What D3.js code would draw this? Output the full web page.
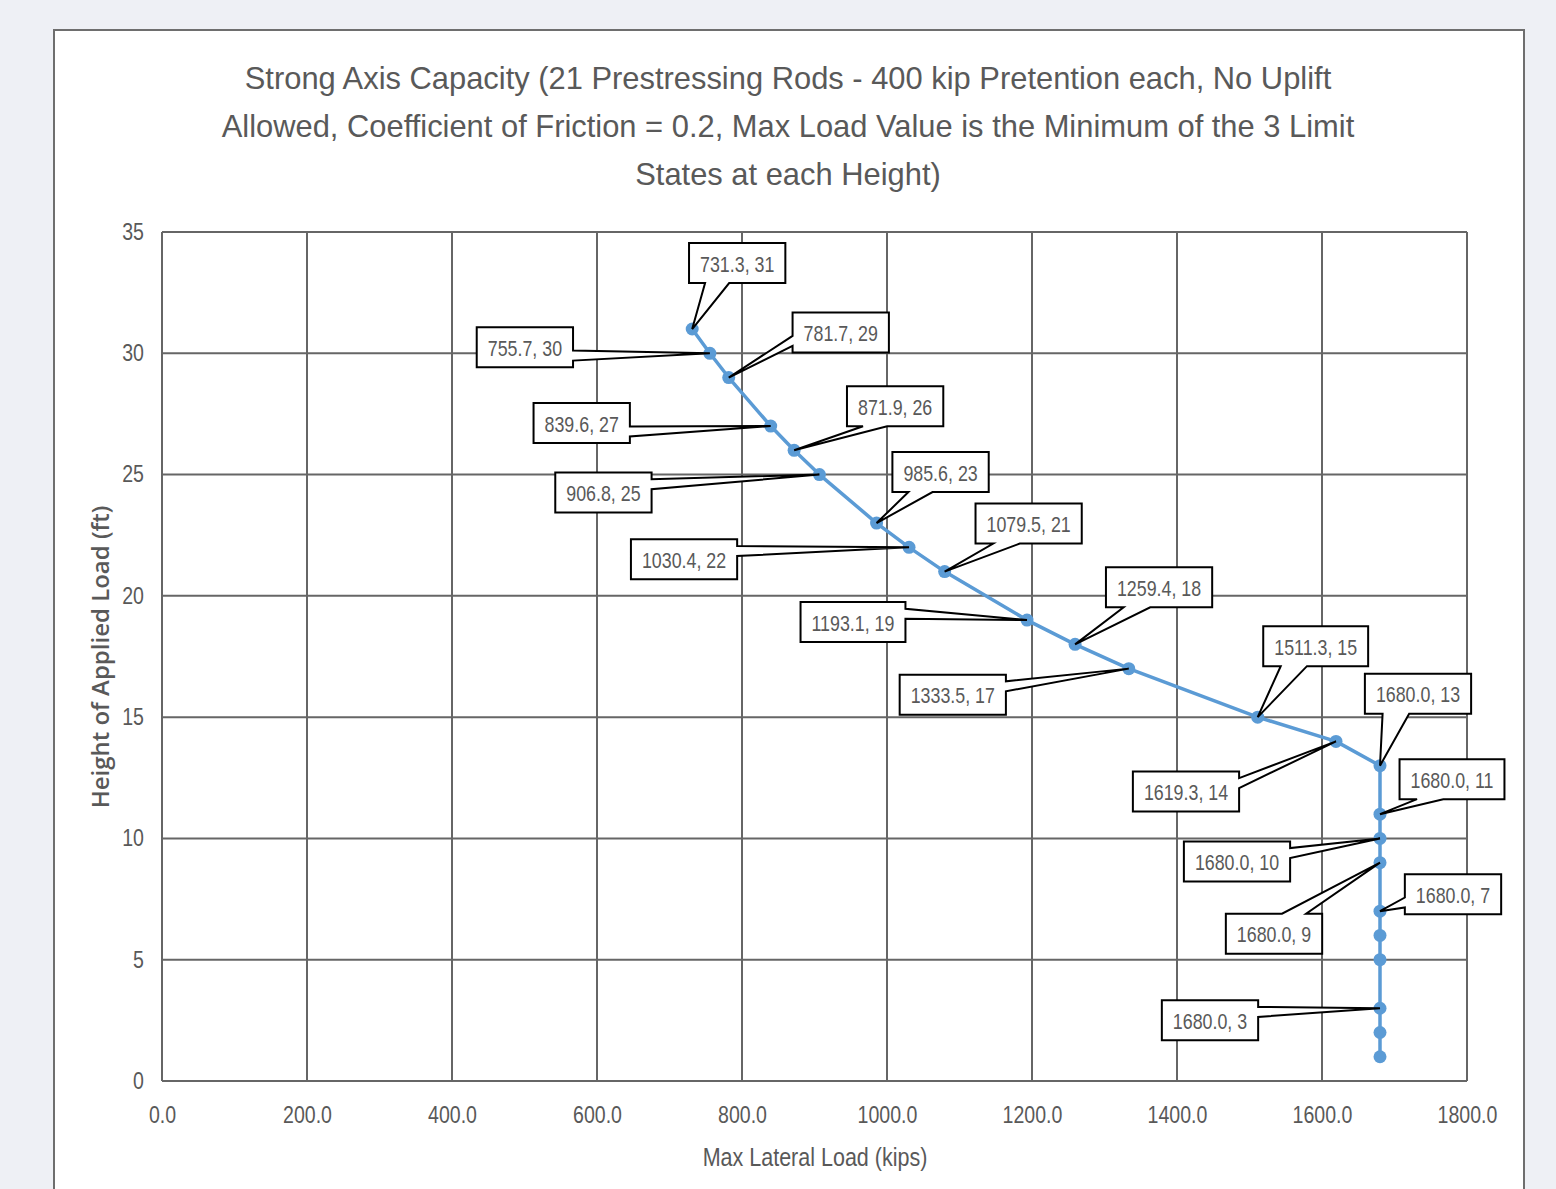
<!DOCTYPE html>
<html>
<head>
<meta charset="utf-8">
<script src="https://cdn.jsdelivr.net/npm/d3@7"></script>
<style>
  html, body { margin: 0; padding: 0; background: #eef0f5; }
  svg { display: block; }
</style>
</head>
<body>
<div id="chart"></div>
<script>
// ━━━━━━━━━━━━━━━━━━━━━━━━━━━━━━━━━━━━━━━━━━━━━━━━━━━━━━━━━━━━━━━━━━━━━━━━━━━━━━━
// Data ///////////////////////////////////////////////////////////////////////////
// ━━━━━━━━━━━━━━━━━━━━━━━━━━━━━━━━━━━━━━━━━━━━━━━━━━━━━━━━━━━━━━━━━━━━━━━━━━━━━━━

const heights = [31, 30, 29, 27, 26, 25, 23, 22, 21, 19, 18, 17, 15, 14, 13, 11, 10, 9, 7, 6, 5, 3, 2, 1];
const loads   = [731.3, 755.7, 781.7, 839.6, 871.9, 906.8, 985.6, 1030.4, 1079.5, 1193.1, 1259.4, 1333.5,
                 1511.3, 1619.3, 1680.0, 1680.0, 1680.0, 1680.0, 1680.0, 1680.0, 1680.0, 1680.0, 1680.0, 1680.0];
const labelledHeights = [31, 30, 29, 27, 26, 25, 23, 22, 21, 19, 18, 17, 15, 14, 13, 11, 10, 9, 7, 3];

const xTicks = d3.range(0, 1801, 200);
const yTicks = d3.range(0, 36, 5);

const titleLines = [
  'Strong Axis Capacity (21 Prestressing Rods - 400 kip Pretention each, No Uplift',
  'Allowed, Coefficient of Friction = 0.2, Max Load Value is the Minimum of the 3 Limit',
  'States at each Height)'
];
const xTitle = 'Max Lateral Load (kips)';
const yTitle = 'Height of Applied Load (ft)';

// callout box centre, relative to its point (px) - hand placed like in the workbook
const calloutOffsets = {
  31: [45, -66], 30: [-185, -6], 29: [112, -45], 27: [-189, -3], 26: [101, -44],
  25: [-216, 18], 23: [64, -51], 22: [-225, 12], 21: [84, -48], 19: [-174, 2],
  18: [84, -57], 17: [-176, 26], 15: [58, -71], 14: [-150, 50], 13: [38, -72],
  11: [72, -35], 10: [-143, 23], 9: [-106, 71], 7: [73, -17], 3: [-170, 12]
};

// ━━━━━━━━━━━━━━━━━━━━━━━━━━━━━━━━━━━━━━━━━━━━━━━━━━━━━━━━━━━━━━━━━━━━━━━━━━━━━━━
// SVG setup //////////////////////////////////////////////////////////////////////
// ━━━━━━━━━━━━━━━━━━━━━━━━━━━━━━━━━━━━━━━━━━━━━━━━━━━━━━━━━━━━━━━━━━━━━━━━━━━━━━━

const width = 1556;
const height = 1189;
const plot = { left: 162, right: 1467, top: 232, bottom: 1081 };
const font = "'Liberation Sans', Arial, sans-serif";
const grey = '#595959';

// the original uses a narrow office font, so squeeze the glyphs horizontally
function squeeze(sel, k) {
  sel.each(function() {
    const len = this.getComputedTextLength();
    d3.select(this).attr('textLength', len * k).attr('lengthAdjust', 'spacingAndGlyphs');
  });
}

const svg = d3.select('#chart').append('svg')
  .attr('width', width)
  .attr('height', height)
  .attr('viewBox', [0, 0, width, height]);

// chart panel
svg.append('rect')
  .attr('x', 54).attr('y', 30)
  .attr('width', 1470).attr('height', 1200)
  .attr('fill', '#fff')
  .attr('stroke', '#6e6e6e')
  .attr('stroke-width', 2);

const x = d3.scaleLinear().domain([0, 1800]).range([plot.left, plot.right]);
const y = d3.scaleLinear().domain([0, 35]).range([plot.bottom, plot.top]);

// ━━━━━━━━━━━━━━━━━━━━━━━━━━━━━━━━━━━━━━━━━━━━━━━━━━━━━━━━━━━━━━━━━━━━━━━━━━━━━━━
// Title //////////////////////////////////////////////////////////////////////////
// ━━━━━━━━━━━━━━━━━━━━━━━━━━━━━━━━━━━━━━━━━━━━━━━━━━━━━━━━━━━━━━━━━━━━━━━━━━━━━━━

svg.append('g')
  .selectAll('text')
  .data(titleLines)
  .join('text')
  .attr('x', 788)
  .attr('y', (d, i) => 89 + i * 48)
  .attr('text-anchor', 'middle')
  .attr('font-family', font)
  .attr('font-size', 32)
  .attr('fill', grey)
  .text(d => d)
  .call(squeeze, 0.965);

// ━━━━━━━━━━━━━━━━━━━━━━━━━━━━━━━━━━━━━━━━━━━━━━━━━━━━━━━━━━━━━━━━━━━━━━━━━━━━━━━
// Grid + axes ////////////////////////////////////////////////////////////////////
// ━━━━━━━━━━━━━━━━━━━━━━━━━━━━━━━━━━━━━━━━━━━━━━━━━━━━━━━━━━━━━━━━━━━━━━━━━━━━━━━

const grid = svg.append('g').attr('stroke', '#666').attr('stroke-width', 2);

grid.selectAll('line.v')
  .data(xTicks)
  .join('line')
  .attr('class', 'v')
  .attr('x1', d => x(d)).attr('x2', d => x(d))
  .attr('y1', plot.top).attr('y2', plot.bottom);

grid.selectAll('line.h')
  .data(yTicks)
  .join('line')
  .attr('class', 'h')
  .attr('x1', plot.left).attr('x2', plot.right)
  .attr('y1', d => y(d)).attr('y2', d => y(d));

const xAxis = svg.append('g')
  .attr('transform', `translate(0,${plot.bottom})`)
  .call(d3.axisBottom(x).tickValues(xTicks).tickFormat(d3.format('.1f')).tickSize(0).tickPadding(26));

const yAxis = svg.append('g')
  .attr('transform', `translate(${plot.left},0)`)
  .call(d3.axisLeft(y).tickValues(yTicks).tickFormat(d3.format('d')).tickSize(0).tickPadding(18));

[xAxis, yAxis].forEach(a => {
  a.select('.domain').remove();
  a.selectAll('text')
    .attr('font-family', font)
    .attr('font-size', 23)
    .attr('fill', grey)
    .call(squeeze, 0.85);
});

svg.append('text')
  .attr('x', 815)
  .attr('y', 1166)
  .attr('text-anchor', 'middle')
  .attr('font-family', font)
  .attr('font-size', 25)
  .attr('fill', grey)
  .text(xTitle)
  .call(squeeze, 0.86);

svg.append('text')
  .attr('transform', 'translate(109,657) rotate(-90)')
  .attr('text-anchor', 'middle')
  .attr('font-family', "'Open Sans', 'DejaVu Sans', sans-serif")
  .attr('font-weight', 600)
  .attr('font-size', 24)
  .attr('fill', grey)
  .text(yTitle);

// ━━━━━━━━━━━━━━━━━━━━━━━━━━━━━━━━━━━━━━━━━━━━━━━━━━━━━━━━━━━━━━━━━━━━━━━━━━━━━━━
// Series /////////////////////////////////////////////////////////////////////////
// ━━━━━━━━━━━━━━━━━━━━━━━━━━━━━━━━━━━━━━━━━━━━━━━━━━━━━━━━━━━━━━━━━━━━━━━━━━━━━━━

const points = heights.map((h, i) => ({ h: h, load: loads[i] }));
const blue = '#5b9bd5';

svg.append('path')
  .datum(points)
  .attr('d', d3.line().x(d => x(d.load)).y(d => y(d.h)))
  .attr('fill', 'none')
  .attr('stroke', blue)
  .attr('stroke-width', 3.5)
  .attr('stroke-linejoin', 'round');

svg.append('g')
  .selectAll('circle')
  .data(points)
  .join('circle')
  .attr('cx', d => x(d.load))
  .attr('cy', d => y(d.h))
  .attr('r', 6.5)
  .attr('fill', blue);

// ━━━━━━━━━━━━━━━━━━━━━━━━━━━━━━━━━━━━━━━━━━━━━━━━━━━━━━━━━━━━━━━━━━━━━━━━━━━━━━━
// Callout labels (Excel "wedgeRectCallout" shape) ////////////////////////////////
// ━━━━━━━━━━━━━━━━━━━━━━━━━━━━━━━━━━━━━━━━━━━━━━━━━━━━━━━━━━━━━━━━━━━━━━━━━━━━━━━

function wedgePath(l, t, w, h, tx, ty) {
  const r = l + w, b = t + h;
  const dx = tx - (l + w / 2), dy = ty - (t + h / 2);
  const dq = dx * h / w;
  const vert = Math.abs(dy) - Math.abs(dq) > 0;
  const x1 = l + w * (dx > 0 ? 7 : 2) / 12, x2 = l + w * (dx > 0 ? 10 : 5) / 12;
  const y1 = t + h * (dy > 0 ? 7 : 2) / 12, y2 = t + h * (dy > 0 ? 10 : 5) / 12;
  const p = d3.path();
  p.moveTo(l, t);
  p.lineTo(x1, t);
  if (vert && dy < 0) p.lineTo(tx, ty);
  p.lineTo(x2, t);
  p.lineTo(r, t);
  p.lineTo(r, y1);
  if (!vert && dx > 0) p.lineTo(tx, ty);
  p.lineTo(r, y2);
  p.lineTo(r, b);
  p.lineTo(x2, b);
  if (vert && dy > 0) p.lineTo(tx, ty);
  p.lineTo(x1, b);
  p.lineTo(l, b);
  p.lineTo(l, y2);
  if (!vert && dx <= 0) p.lineTo(tx, ty);
  p.lineTo(l, y1);
  p.closePath();
  return p.toString();
}

const labels = points.filter(d => labelledHeights.includes(d.h));
const boxH = 40;
const labelSqueeze = 0.81;

const callouts = svg.append('g')
  .selectAll('g')
  .data(labels)
  .join('g');

const shapes = callouts.append('path');

const texts = callouts.append('text')
  .attr('text-anchor', 'middle')
  .attr('dominant-baseline', 'central')
  .attr('font-family', font)
  .attr('font-size', 22)
  .attr('fill', grey)
  .attr('x', d => x(d.load) + calloutOffsets[d.h][0])
  .attr('y', d => y(d.h) + calloutOffsets[d.h][1] + 1)
  .text(d => d3.format('.1f')(d.load) + ', ' + d.h);

texts.each(function(d) { d.w = this.getComputedTextLength() * labelSqueeze + 22; });
texts.call(squeeze, labelSqueeze);

shapes
  .attr('d', d => {
    const cx = x(d.load) + calloutOffsets[d.h][0];
    const cy = y(d.h) + calloutOffsets[d.h][1];
    return wedgePath(cx - d.w / 2, cy - boxH / 2, d.w, boxH, x(d.load), y(d.h));
  })
  .attr('fill', '#fff')
  .attr('stroke', '#000')
  .attr('stroke-width', 2)
  .attr('stroke-linejoin', 'miter');
</script>
</body>
</html>
